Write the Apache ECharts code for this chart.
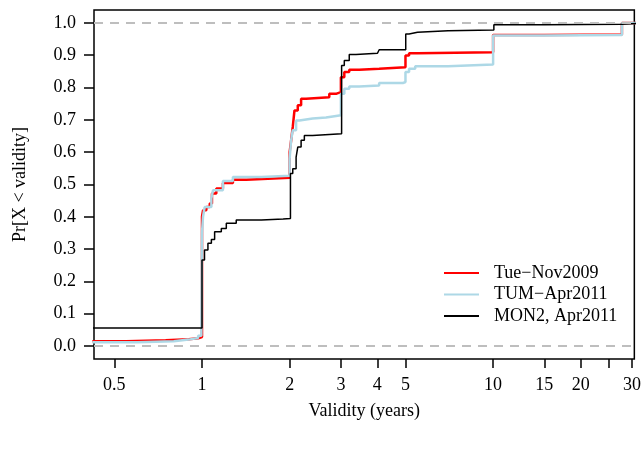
<!DOCTYPE html>
<html>
<head>
<meta charset="utf-8">
<script src="https://cdn.jsdelivr.net/npm/echarts@6/dist/echarts.min.js"></script>
<style>
  html, body { margin: 0; padding: 0; background: #fff; }
  #chart { width: 644px; height: 451px; }
</style>
</head>
<body>
<div id="chart"></div>
<script>
// ECDF step points (x = validity in years, y = cumulative share)
const tueX = [0.42, 0.55, 0.75, 0.9, 0.97, 1.0, 1.008, 1.035, 1.063, 1.082, 1.12, 1.18, 1.277, 1.42,
  2.0, 2.024, 2.05, 2.078, 2.133, 2.19, 2.278, 2.737, 2.9,
  3.0, 3.082, 3.205, 3.467, 4.06, 5.0, 5.144, 5.5, 10.0, 15.0, 27.7, 31];
const tueY = [0.015, 0.018, 0.021, 0.024, 0.028, 0.40, 0.42, 0.43, 0.441, 0.472, 0.488, 0.505, 0.515, 0.521,
  0.60, 0.637, 0.678, 0.729, 0.745, 0.765, 0.770, 0.781, 0.786,
  0.832, 0.848, 0.855, 0.858, 0.863, 0.899, 0.906, 0.909, 0.963, 0.964, 1.0, 1.0];

const tumX = [0.42, 0.6, 0.8, 0.9, 0.97, 0.995, 1.0, 1.008, 1.021, 1.077, 1.091, 1.18, 1.277, 1.6,
  2.0, 2.024, 2.05, 2.105, 2.161, 2.4, 2.667, 2.85,
  3.0, 3.082, 3.205, 3.467, 4.06, 4.9, 5.0, 5.144, 5.4, 7.0, 10.0, 15.0, 27.7, 31];
const tumY = [0.012, 0.015, 0.02, 0.025, 0.032, 0.04, 0.35, 0.40, 0.43, 0.457, 0.482, 0.511, 0.523, 0.527,
  0.58, 0.637, 0.668, 0.698, 0.704, 0.707, 0.711, 0.714,
  0.781, 0.796, 0.803, 0.806, 0.814, 0.817, 0.848, 0.858, 0.866, 0.871, 0.961, 0.963, 1.0, 1.0];

const monX = [0.42, 0.7, 1.0, 1.02, 1.048, 1.077, 1.105, 1.165, 1.212, 1.311, 1.6, 1.9,
  2.013, 2.05, 2.105, 2.133, 2.19, 2.247, 2.4,
  3.017, 3.082, 3.205, 3.38, 4.007, 4.061, 5.01, 5.144, 5.5, 7.0, 10.06, 15.0, 27.7, 31];
const monY = [0.0556, 0.0556, 0.266, 0.297, 0.318, 0.330, 0.354, 0.364, 0.38, 0.39, 0.393, 0.395,
  0.534, 0.549, 0.585, 0.616, 0.637, 0.652, 0.657,
  0.868, 0.884, 0.902, 0.906, 0.912, 0.917, 0.966, 0.971, 0.976, 0.978, 0.994, 0.996, 0.998, 1.0];

const xTickLabels = [0.5, 1, 2, 3, 4, 5, 10, 15, 20, 30];
const xTicks = [0.5, 1, 2, 3, 4, 5, 10, 15, 20, 25, 30];
const yTicks = [0, 0.1, 0.2, 0.3, 0.4, 0.5, 0.6, 0.7, 0.8, 0.9, 1.0];

const font = 'Liberation Serif';
const zip = (xs, ys) => xs.map((x, i) => [x, ys[i]]);

const chart = echarts.init(document.getElementById('chart'));

chart.setOption({
  animation: false,
  textStyle: { fontFamily: font, color: '#000' },
  grid: {
    left: 94, right: 8, top: 10, bottom: 92,
    show: true, borderColor: '#000', borderWidth: 1.5
  },
  legend: {
    orient: 'vertical',
    left: 438, top: 259,
    itemWidth: 35, itemHeight: 14, itemGap: 3.5,
    itemStyle: { opacity: 0 },
    textStyle: { fontSize: 18, fontFamily: font, color: '#000', lineHeight: 18, padding: [0, 0, 0, 10] },
    data: ['Tue\u2212Nov2009', 'TUM\u2212Apr2011', 'MON2, Apr2011']
  },
  xAxis: {
    type: 'log',
    logBase: 10,
    min: 0.4256, max: 30.56,
    name: 'Validity (years)',
    nameLocation: 'middle',
    nameGap: 43,
    nameTextStyle: { fontSize: 18, fontFamily: font, color: '#000' },
    axisLine: { show: false, onZero: false },
    splitLine: { show: false },
    minorTick: { show: false },
    axisTick: { show: true, length: 9, lineStyle: { color: '#000', width: 1.5 }, customValues: xTicks },
    axisLabel: {
      fontSize: 18, fontFamily: font, color: '#000', margin: 17,
      customValues: xTickLabels,
      formatter: v => String(Math.round(v * 10) / 10)
    }
  },
  yAxis: {
    type: 'value',
    min: -0.04, max: 1.04,
    name: 'Pr[X < validity]',
    nameLocation: 'middle',
    nameGap: 65,
    nameTextStyle: { fontSize: 18, fontFamily: font, color: '#000' },
    axisLine: { show: false, onZero: false },
    splitLine: { show: false },
    axisTick: { show: true, length: 10, lineStyle: { color: '#000', width: 1.5 }, customValues: yTicks },
    axisLabel: {
      fontSize: 18, fontFamily: font, color: '#000', margin: 18,
      customValues: yTicks,
      formatter: v => v.toFixed(1)
    }
  },
  series: [
    {
      name: 'Tue\u2212Nov2009', type: 'line', step: 'end', symbol: 'none',
      lineStyle: { color: '#ff0000', width: 2.5 }, itemStyle: { color: '#ff0000' },
      data: zip(tueX, tueY),
      markLine: {
        silent: true, symbol: 'none', label: { show: false },
        lineStyle: { color: '#bebebe', type: [9, 7], width: 2 },
        data: [{ yAxis: 0 }, { yAxis: 1 }]
      }
    },
    {
      name: 'TUM\u2212Apr2011', type: 'line', step: 'end', symbol: 'none',
      lineStyle: { color: '#add8e6', width: 2.5 }, itemStyle: { color: '#add8e6' },
      data: zip(tumX, tumY)
    },
    {
      name: 'MON2, Apr2011', type: 'line', step: 'end', symbol: 'none',
      lineStyle: { color: '#000000', width: 1.5 }, itemStyle: { color: '#000000' },
      data: zip(monX, monY)
    }
  ]
});
</script>
</body>
</html>
